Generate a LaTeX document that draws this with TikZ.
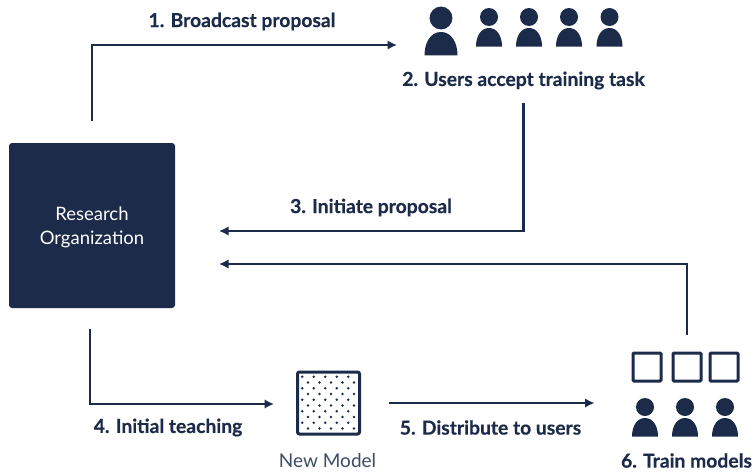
\documentclass[tikz,border=0pt]{standalone}
\usepackage{fontspec}
\setmainfont{Lato}[BoldFeatures={FakeBold=0.4}]
\definecolor{navy}{HTML}{1C2B4A}
\tikzset{
  x=1pt, y=-1pt,
  step label/.style = {font=\fontsize{19.3}{23}\selectfont\bfseries, text=navy, inner sep=0pt},
  plain label/.style = {font=\fontsize{19}{23}\selectfont, inner sep=0pt},
  orgbox/.style = {rectangle, rounded corners=3pt, fill=navy, text=white, align=center,
                   minimum width=166pt, minimum height=165pt, inner sep=0pt,
                   font=\fontsize{18.5}{23.5}\selectfont},
  flow/.style = {draw=navy, line width=2.4pt, -{Latex[length=9.5pt,width=9.5pt]}},
  slot/.style = {rectangle, draw=navy, line width=3pt, rounded corners=1pt,
                 minimum size=28pt, inner sep=0pt},
  modelbox/.style = {rectangle, draw=navy, line width=3pt, rounded corners=2pt,
                     minimum size=62pt, inner sep=0pt},
  person/.pic = {
    \fill[navy] (0,0) circle[radius=9];
    \fill[navy] (-13,29.5) .. controls (-13,19) and (-8,11) .. (0,11)
                .. controls (8,11) and (13,19) .. (13,29.5) -- cycle;
    \coordinate (-head) at (0,0);
  }
}
\usetikzlibrary{arrows.meta}
\begin{document}
\begin{tikzpicture}
\useasboundingbox (0,0) rectangle (754,471);

\node [orgbox] (org) at (92,225.5) {\rule{0pt}{17pt}Research\\Organization};

% users on top
\pic [scale=1.27] (user1) at (441,18) {person};
\foreach \ux/\un in {489/2,529/3,569/4,609.5/5}
  \pic (user\un) at (\ux,17) {person};
\node [step label] (accept) at (523.5,80.5) {2. Users accept training task};

% model
\node [modelbox] (model) at (328.5,403) {};
\foreach \row in {0,...,9}
  \foreach \col in {0,...,4}
    \fill[navy] ({302.3+11.5*\col+5.75*mod(\row,2)},{376.7+5.75*\row}) circle[radius=1.4];
\node [plain label, text=navy!85] (modelname) at (327.5,460.5) {New Model};

% training users
\node [slot] (slot1) at (647,367) {};
\node [slot] (slot2) at (687,367) {};
\node [slot] (slot3) at (724,367) {};
\foreach \ux/\un in {645/6,685/7,725/8}
  \pic (user\un) at (\ux,407) {person};
\node [step label] (train) at (686.5,460.5) {6. Train models};

% free ends
\coordinate (in3) at (219,231);
\coordinate (in6) at (219,264);
\coordinate (end1) at (397,45);
\coordinate (end4) at (274,404);

% connectors
\draw [flow, shorten <=22pt] (org.north) |- (end1);
\draw [flow, shorten <=13pt] (accept.south) |- (in3);
\draw [flow, shorten <=17pt] (slot2.north) |- (in6);
\draw [flow, shorten <=21pt] (org.south -| 90,0) |- (end4);
\draw [flow, shorten <=28pt, shorten >=37pt] (model.east) -- (slot1.west |- model.east);

\node [step label] (stepa) at (242,21.5) {1. Broadcast proposal};
\node [step label] (stepc) at (371,207.5) {3. Initiate proposal};
\node [step label] (stepd) at (168,427.5) {4. Initial teaching};
\node [step label] (stepe) at (490.5,427.5) {5. Distribute to users};
\end{tikzpicture}
\end{document}
